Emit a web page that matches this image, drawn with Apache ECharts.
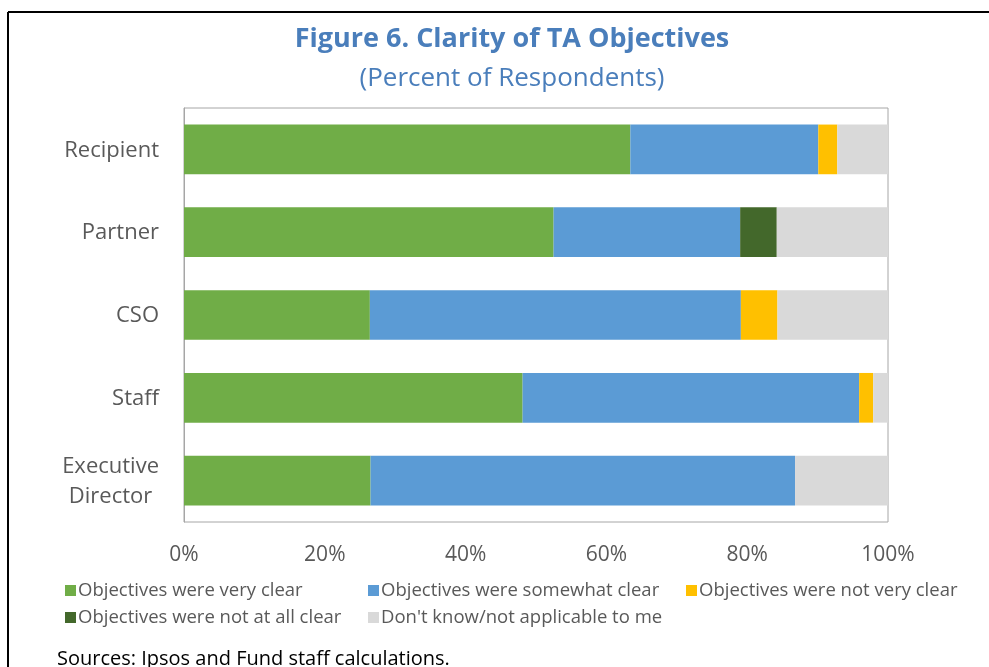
<!DOCTYPE html>
<html>
<head>
<meta charset="utf-8">
<script src="https://cdn.jsdelivr.net/npm/echarts@6/dist/echarts.min.js"></script>
<style>
  html, body { margin: 0; padding: 0; background: #fff; }
  #chart { width: 989px; height: 667px; }
</style>
</head>
<body>
<div id="chart"></div>
<script>
// Respondent groups, top to bottom
const categories = ['Recipient', 'Partner', 'CSO', 'Staff', 'Executive Director'];

// Percent of respondents per answer
const veryClear      = [63.4, 52.5, 26.4, 48.1, 26.5];
const somewhatClear  = [26.7, 26.5, 52.7, 47.8, 60.3];
const notVeryClear   = [2.7, 0, 5.2, 2.0, 0];
const notAtAllClear  = [0, 5.2, 0, 0, 0];
const dontKnow       = [7.2, 15.8, 15.7, 2.1, 13.2];

const xTicks = [0, 20, 40, 60, 80, 100];

const seriesNames = [
  'Objectives were very clear',
  'Objectives were somewhat clear',
  'Objectives were not very clear',
  'Objectives were not at all clear',
  "Don't know/not applicable to me"
];
const seriesData = [veryClear, somewhatClear, notVeryClear, notAtAllClear, dontKnow];
const colors = ['#70AD47', '#5B9BD5', '#FFC000', '#43682B', '#D9D9D9'];

const FONT = 'Open Sans';

const chart = echarts.init(document.getElementById('chart'), null, { renderer: 'canvas' });

// one legend per entry so the two rows line up in columns
const legendPos = [
  { left: 60, top: 576 },
  { left: 363, top: 576 },
  { left: 681, top: 576 },
  { left: 60, top: 603 },
  { left: 363, top: 603 }
];
const legends = seriesNames.map((n, i) => ({
  data: [n],
  left: legendPos[i].left,
  top: legendPos[i].top,
  itemWidth: 11,
  itemHeight: 11,
  itemGap: 0,
  icon: 'rect',
  selectedMode: false,
  textStyle: { fontFamily: FONT, fontSize: 18.5, color: '#595959', padding: [0, 0, 0, -3] }
}));

chart.setOption({
  animation: false,
  textStyle: { fontFamily: FONT },
  title: [
    {
      text: 'Figure 6. Clarity of TA Objectives',
      left: 507, top: 21, textAlign: 'center',
      textStyle: { fontFamily: FONT, fontSize: 27, fontWeight: 'bold', color: '#4A7EBB' }
    },
    {
      text: '(Percent of Respondents)',
      left: 507, top: 61, textAlign: 'center',
      textStyle: { fontFamily: FONT, fontSize: 26, fontWeight: 'normal', color: '#4A7EBB' }
    },
    {
      text: 'Sources: Ipsos and Fund staff calculations.',
      left: 52, top: 644,
      textStyle: { fontFamily: FONT, fontSize: 20, fontWeight: 'normal', color: '#000' }
    }
  ],
  legend: legends,
  grid: {
    left: 184, right: 101, top: 108, height: 414,
    show: true, borderColor: '#A6A6A6', borderWidth: 1, backgroundColor: 'transparent'
  },
  xAxis: {
    type: 'value', min: 0, max: 100, interval: 20,
    axisLine: { show: false },
    axisTick: { show: false },
    splitLine: { show: false },
    axisLabel: {
      margin: 23, fontFamily: FONT, fontSize: 21, color: '#595959',
      formatter: v => (xTicks.includes(v) ? v + '%' : '')
    }
  },
  yAxis: {
    type: 'category', data: categories, inverse: true,
    axisLine: { show: true, lineStyle: { color: '#A6A6A6' } },
    axisTick: { show: false },
    axisLabel: {
      margin: 25, fontFamily: FONT, fontSize: 22, color: '#595959', lineHeight: 30,
      formatter: v => v.split(' ').map(w => '{c|' + w + '}').join('\n'),
      rich: { c: { align: 'center', fontFamily: FONT, fontSize: 22, color: '#595959', lineHeight: 30, padding: [2, 0, 0, 0] } }
    }
  },
  series: seriesData.map((d, i) => ({
    name: seriesNames[i],
    type: 'bar',
    stack: 'total',
    data: d,
    barCategoryGap: '40%',
    itemStyle: { color: colors[i] }
  })),
  graphic: [
    { type: 'line', shape: { x1: 8, y1: 12, x2: 989, y2: 12 }, style: { stroke: '#000', lineWidth: 2 } },
    { type: 'line', shape: { x1: 8, y1: 12, x2: 8, y2: 667 }, style: { stroke: '#000', lineWidth: 2 } }
  ]
});
</script>
</body>
</html>
